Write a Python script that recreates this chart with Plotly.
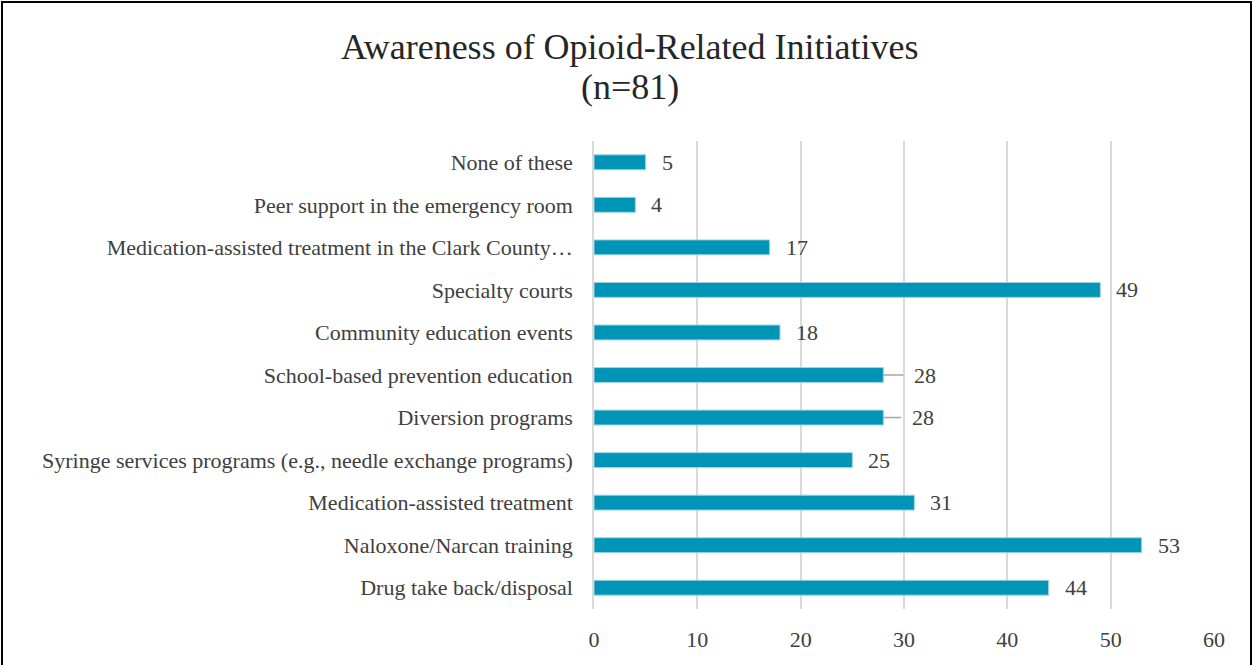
import plotly.graph_objects as go

# Survey results, listed bottom to top as drawn on the chart
categories = [
    "Drug take back/disposal",
    "Naloxone/Narcan training",
    "Medication-assisted treatment",
    "Syringe services programs (e.g., needle exchange programs)",
    "Diversion programs",
    "School-based prevention education",
    "Community education events",
    "Specialty courts",
    "Medication-assisted treatment in the Clark County…",
    "Peer support in the emergency room",
    "None of these",
]
counts = [44, 53, 31, 25, 28, 28, 18, 49, 17, 4, 5]
# labels pushed further out get a short leader line (pixels from bar end)
label_push = [0, 0, 0, 0, 18, 20, 0, 0, 0, 0, 0]
x_ticks = [0, 10, 20, 30, 40, 50, 60]
title_lines = ["Awareness of Opioid-Related Initiatives", "(n=81)"]

W, H = 1253, 665
L, R, T, B = 594, 39, 141, 56

FONT = "Liberation Serif"
TXT = "#404040"
BAR = "#0095b6"
FS = 22

fig = go.Figure(
    go.Bar(
        x=counts,
        y=list(range(len(categories))),
        orientation="h",
        marker=dict(color=BAR, line=dict(color="#9fd3e2", width=1)),
        width=0.35,
        hoverinfo="x+y",
    )
)

pw, ph = W - L - R, H - T - B
def px_x(p):
    return (p - L) / pw
def px_y(p):
    return (H - B - p) / ph

annotations = []
shapes = []
for i, (v, push) in enumerate(zip(counts, label_push)):
    annotations.append(dict(
        x=v, y=i, xref="x", yref="y", text=str(v), showarrow=False,
        xanchor="left", yanchor="middle",
        xshift=(push + 9) if push else 14,
        font=dict(family=FONT, size=FS, color=TXT),
    ))
    if push:
        shapes.append(dict(
            type="line", xref="x", yref="y", xsizemode="pixel", xanchor=v,
            x0=0, x1=push, y0=i, y1=i,
            line=dict(color="#a6a6a6", width=1.5),
        ))

# two-line chart title, centred over the page
for line, ypx in zip(title_lines, [47, 87]):
    annotations.append(dict(
        x=px_x(630), y=px_y(ypx), xref="paper", yref="paper",
        text=line, showarrow=False, xanchor="center", yanchor="middle",
        font=dict(family=FONT, size=36, color="#262626"),
    ))

# outer frame around the whole chart
shapes.append(dict(
    type="rect", xref="paper", yref="paper",
    x0=px_x(2), x1=px_x(W - 2), y0=px_y(H + 4), y1=px_y(2),
    line=dict(color="#000000", width=2), fillcolor="rgba(0,0,0,0)", layer="above",
))

fig.update_layout(
    width=W, height=H,
    margin=dict(l=L, r=R, t=T, b=B),
    paper_bgcolor="white", plot_bgcolor="white",
    showlegend=False,
    xaxis=dict(
        range=[0, 60], tickvals=x_ticks, ticktext=[str(t) for t in x_ticks],
        showgrid=True, gridcolor="#d9d9d9", gridwidth=1.5,
        zeroline=False, showline=False, ticks="",
        ticklabelstandoff=15,
        tickfont=dict(family=FONT, size=FS, color=TXT),
    ),
    yaxis=dict(
        range=[-0.5, len(categories) - 0.5],
        tickvals=list(range(len(categories))), ticktext=categories,
        showgrid=False, zeroline=False,
        showline=True, linecolor="#d9d9d9", linewidth=1.5,
        ticks="", ticklabelstandoff=15,
        tickfont=dict(family=FONT, size=FS, color=TXT),
    ),
    annotations=annotations,
    shapes=shapes,
)

fig.write_html("out.html")
